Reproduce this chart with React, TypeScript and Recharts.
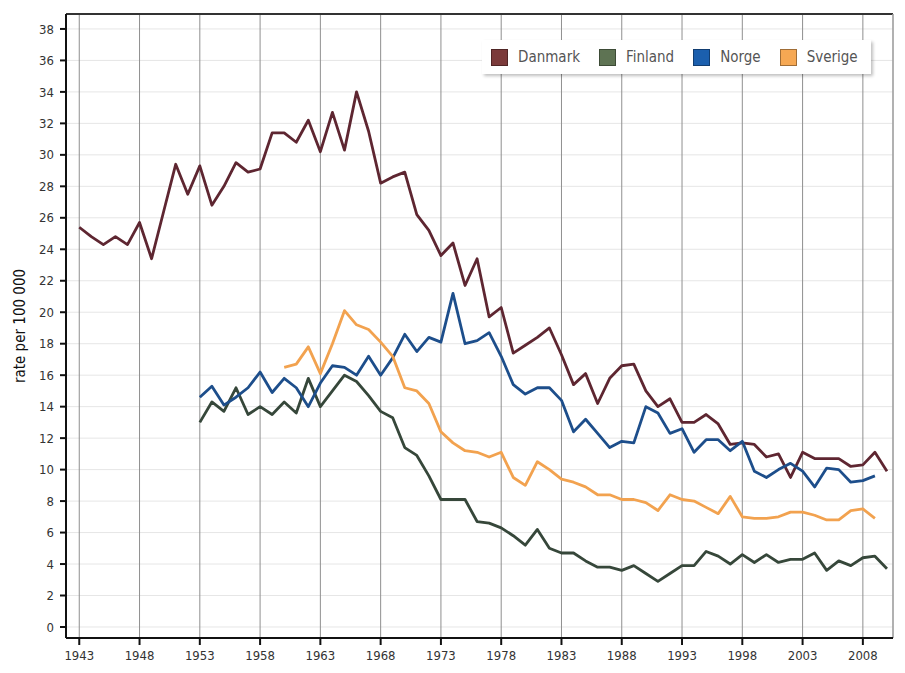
import {
  LineChart,
  Line,
  XAxis,
  YAxis,
  CartesianGrid,
  Legend,
  ReferenceLine,
} from "recharts";

const YEARS = [
  1943, 1944, 1945, 1946, 1947, 1948, 1949, 1950, 1951, 1952, 1953, 1954, 1955, 1956, 1957, 1958, 1959,
  1960, 1961, 1962, 1963, 1964, 1965, 1966, 1967, 1968, 1969, 1970, 1971, 1972, 1973, 1974, 1975, 1976,
  1977, 1978, 1979, 1980, 1981, 1982, 1983, 1984, 1985, 1986, 1987, 1988, 1989, 1990, 1991, 1992, 1993,
  1994, 1995, 1996, 1997, 1998, 1999, 2000, 2001, 2002, 2003, 2004, 2005, 2006, 2007, 2008, 2009, 2010,
];

// 1943-2010
const DANMARK = [
  25.4, 24.8, 24.3, 24.8, 24.3, 25.7, 23.4, 26.4, 29.4, 27.5, 29.3, 26.8, 28.0, 29.5, 28.9, 29.1, 31.4,
  31.4, 30.8, 32.2, 30.2, 32.7, 30.3, 34.0, 31.5, 28.2, 28.6, 28.9, 26.2, 25.2, 23.6, 24.4, 21.7, 23.4,
  19.7, 20.3, 17.4, 17.9, 18.4, 19.0, 17.3, 15.4, 16.1, 14.2, 15.8, 16.6, 16.7, 15.0, 14.0, 14.5, 13.0,
  13.0, 13.5, 12.9, 11.6, 11.7, 11.6, 10.8, 11.0, 9.5, 11.1, 10.7, 10.7, 10.7, 10.2, 10.3, 11.1, 9.9,
];

// 1953-2010
const FINLAND = [
  13.0, 14.3, 13.7, 15.2, 13.5, 14.0, 13.5, 14.3, 13.6, 15.8, 14.0, 15.0, 16.0, 15.6, 14.7, 13.7, 13.3,
  11.4, 10.9, 9.6, 8.1, 8.1, 8.1, 6.7, 6.6, 6.3, 5.8, 5.2, 6.2, 5.0, 4.7, 4.7, 4.2, 3.8, 3.8, 3.6, 3.9,
  3.4, 2.9, 3.4, 3.9, 3.9, 4.8, 4.5, 4.0, 4.6, 4.1, 4.6, 4.1, 4.3, 4.3, 4.7, 3.6, 4.2, 3.9, 4.4, 4.5, 3.7,
];

// 1953-2009
const NORGE = [
  14.6, 15.3, 14.1, 14.6, 15.2, 16.2, 14.9, 15.8, 15.2, 14.0, 15.5, 16.6, 16.5, 16.0, 17.2, 16.0, 17.1,
  18.6, 17.5, 18.4, 18.1, 21.2, 18.0, 18.2, 18.7, 17.2, 15.4, 14.8, 15.2, 15.2, 14.4, 12.4, 13.2, 12.3,
  11.4, 11.8, 11.7, 14.0, 13.6, 12.3, 12.6, 11.1, 11.9, 11.9, 11.2, 11.8, 9.9, 9.5, 10.0, 10.4, 9.9, 8.9,
  10.1, 10.0, 9.2, 9.3, 9.6,
];

// 1960-2009
const SVERIGE = [
  16.5, 16.7, 17.8, 16.1, 18.0, 20.1, 19.2, 18.9, 18.1, 17.2, 15.2, 15.0, 14.2, 12.4, 11.7, 11.2, 11.1,
  10.8, 11.1, 9.5, 9.0, 10.5, 10.0, 9.4, 9.2, 8.9, 8.4, 8.4, 8.1, 8.1, 7.9, 7.4, 8.4, 8.1, 8.0, 7.6, 7.2,
  8.3, 7.0, 6.9, 6.9, 7.0, 7.3, 7.3, 7.1, 6.8, 6.8, 7.4, 7.5, 6.9,
];

const X_TICKS = [1943, 1948, 1953, 1958, 1963, 1968, 1973, 1978, 1983, 1988, 1993, 1998, 2003, 2008];
const Y_TICKS = [0, 2, 4, 6, 8, 10, 12, 14, 16, 18, 20, 22, 24, 26, 28, 30, 32, 34, 36, 38];

const SERIES = [
  { key: "Danmark", line: "#5e2631", swatch: "#7b3a3a", start: 1943, values: DANMARK },
  { key: "Finland", line: "#36473a", swatch: "#5e7353", start: 1953, values: FINLAND },
  { key: "Norge", line: "#1d4e8b", swatch: "#1b5fae", start: 1953, values: NORGE },
  { key: "Sverige", line: "#f2a24f", swatch: "#f6a853", start: 1960, values: SVERIGE },
];

const FONT = '"Liberation Sans Narrow", "DejaVu Sans Condensed", "Open Sans", sans-serif';

const rows = YEARS.map((year) => {
  const row: Record<string, number | null> = { year };
  SERIES.forEach((s) => {
    const i = year - s.start;
    row[s.key] = i >= 0 && i < s.values.length ? s.values[i] : null;
  });
  return row;
});

function LegendBox() {
  return (
    <div
      style={{
        display: "flex",
        alignItems: "center",
        gap: 19,
        background: "#fff",
        padding: "8px 13px 8px 9px",
        boxShadow: "2px 2px 3px rgba(0,0,0,0.25)",
        fontFamily: FONT,
        fontSize: 15,
        color: "#555",
      }}
    >
      {SERIES.map((s) => (
        <div key={s.key} style={{ display: "flex", alignItems: "center", gap: 10 }}>
          <span
            style={{
              width: 17,
              height: 17,
              background: s.swatch,
              border: "1px solid rgba(0,0,0,0.35)",
              boxSizing: "border-box",
            }}
          />
          <span>{s.key}</span>
        </div>
      ))}
    </div>
  );
}

export default function App() {
  return (
    <div style={{ position: "absolute", left: 0, top: 0, width: 905, height: 673, background: "#fff" }}>
      <LineChart width={905} height={673} data={rows} margin={{ top: 14, right: 12, bottom: 0, left: 0 }}>
        <CartesianGrid stroke="#e6e6e6" vertical={false} />
        <CartesianGrid stroke="#8f8f8f" horizontal={false} />
        <XAxis
          dataKey="year"
          type="number"
          domain={[1941.9, 2010.5]}
          ticks={X_TICKS}
          height={35}
          stroke="#111"
          strokeWidth={2}
          tickSize={7}
          tickMargin={6}
          tick={{ fill: "#333", fontSize: 13, fontFamily: FONT }}
          allowDataOverflow
        />
        <YAxis
          type="number"
          domain={[-0.7, 38.95]}
          ticks={Y_TICKS}
          width={66}
          stroke="#111"
          strokeWidth={2}
          tickSize={6}
          tickMargin={6}
          tick={{ fill: "#333", fontSize: 13, fontFamily: FONT }}
          allowDataOverflow
          label={{
            value: "rate per 100 000",
            angle: -90,
            position: "insideLeft",
            offset: 20,
            style: { textAnchor: "middle", fill: "#111", fontSize: 15, fontFamily: FONT },
          }}
        />
        <ReferenceLine y={38.95} stroke="#333" strokeWidth={2} />
        <ReferenceLine x={2010.5} stroke="#aaa" strokeWidth={1.5} />
        <Legend
          layout="horizontal"
          verticalAlign="middle"
          align="center"
          content={() => <LegendBox />}
          wrapperStyle={{ top: 40, left: 482, width: "auto" }}
        />
        {SERIES.map((s) => (
          <Line
            key={s.key}
            type="linear"
            dataKey={s.key}
            stroke={s.line}
            strokeWidth={2.8}
            strokeLinejoin="round"
            dot={false}
            connectNulls={false}
            isAnimationActive={false}
          />
        ))}
      </LineChart>
    </div>
  );
}
